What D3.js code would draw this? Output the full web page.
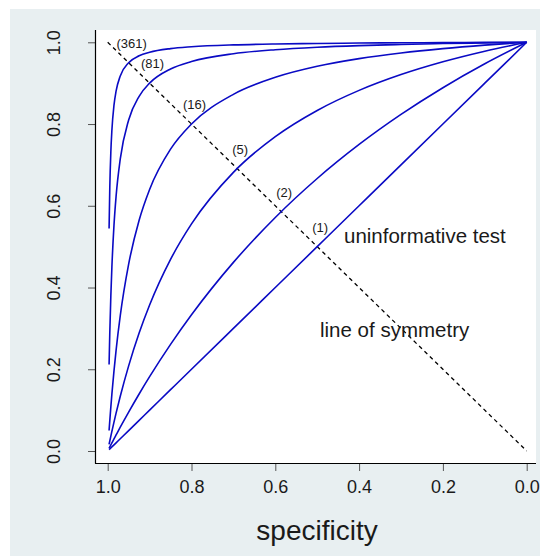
<!DOCTYPE html>
<html>
<head>
<meta charset="utf-8">
<script src="https://cdn.jsdelivr.net/npm/d3@7"></script>
<style>
  body { margin: 0; background: #ffffff; }
  svg { display: block; font-family: "Liberation Sans", Arial, sans-serif; }
</style>
</head>
<body>
<div id="chart"></div>
<script>
// chart size
const width = 540;
const height = 556;

// specificity values shared by every curve
const specificity = [0.9967, 0.995, 0.9925, 0.99, 0.985, 0.98, 0.97, 0.95, 0.925, 0.9,
    0.85, 0.8, 0.7, 0.6, 0.5, 0.4, 0.3, 0.2, 0.1, 0.0];

// sensitivity for each diagnostic odds ratio
const sens1 = [0.0033, 0.005, 0.0075, 0.01, 0.015, 0.02, 0.03, 0.05, 0.075, 0.1,
    0.15, 0.2, 0.3, 0.4, 0.5, 0.6, 0.7, 0.8, 0.9, 1.0];
const sens2 = [0.0066, 0.0100, 0.0149, 0.0198, 0.0296, 0.0392, 0.0583, 0.0952, 0.1395, 0.1818,
    0.2609, 0.3333, 0.4615, 0.5714, 0.6667, 0.75, 0.8235, 0.8889, 0.9474, 1.0];
const sens5 = [0.0163, 0.0245, 0.0364, 0.0481, 0.0708, 0.0926, 0.1339, 0.2083, 0.2885, 0.3571,
    0.4688, 0.5556, 0.6818, 0.7692, 0.8333, 0.8824, 0.9211, 0.9524, 0.9783, 1.0];
const sens16 = [0.0503, 0.0744, 0.1079, 0.1391, 0.1959, 0.2462, 0.3310, 0.4571, 0.5647, 0.64,
    0.7385, 0.8, 0.8727, 0.9143, 0.9412, 0.96, 0.9739, 0.9846, 0.9931, 1.0];
const sens81 = [0.2115, 0.2893, 0.3797, 0.45, 0.5523, 0.6231, 0.7147, 0.81, 0.8679, 0.9,
    0.9346, 0.9529, 0.972, 0.9818, 0.9878, 0.9918, 0.9947, 0.9969, 0.9986, 1.0];
const sens361 = [0.5445, 0.6446, 0.7318, 0.7848, 0.8461, 0.8805, 0.9178, 0.95, 0.967, 0.9757,
    0.9846, 0.989, 0.9936, 0.9959, 0.9972, 0.9982, 0.9988, 0.9993, 0.9997, 1.0];

const curveSens = [sens1, sens2, sens5, sens16, sens81, sens361];

// curve labels and where they cross the line of symmetry
const oddsLabels = ["(1)", "(2)", "(5)", "(16)", "(81)", "(361)"];
const labelSens = [0.5, 0.586, 0.691, 0.8, 0.9, 0.95];

// tick labels
const xTicks = [1.0, 0.8, 0.6, 0.4, 0.2, 0.0];
const yTicks = [0.0, 0.2, 0.4, 0.6, 0.8, 1.0];

const blue = "#0a0ac4";
const textColor = "#1a1a1a";

var svg = d3.select("#chart")
    .append("svg")
    .attr("width", width)
    .attr("height", height);

// grey panel behind everything
svg.append("rect")
    .attr("x", 10).attr("y", 9)
    .attr("width", width - 10).attr("height", height - 9)
    .attr("fill", "#e8eff1");

// white plot region
svg.append("rect")
    .attr("x", 95).attr("y", 30)
    .attr("width", 441).attr("height", 433)
    .attr("fill", "#ffffff");

// scales (specificity runs backwards)
var xScale = d3.scaleLinear().domain([1, 0]).range([107.7, 526.7]);
var yScale = d3.scaleLinear().domain([0, 1]).range([451, 42.3]);

// axes
var xAxis = d3.axisBottom(xScale)
    .tickValues(xTicks)
    .tickFormat(d3.format(".1f"))
    .tickSize(8)
    .tickPadding(4);

var yAxis = d3.axisLeft(yScale)
    .tickValues(yTicks)
    .tickFormat(d3.format(".1f"))
    .tickSize(7)
    .tickPadding(4);

var gx = svg.append("g")
    .attr("transform", "translate(0,463)")
    .call(xAxis);
gx.select(".domain").remove();
gx.selectAll(".tick line").attr("stroke", "#555");
gx.selectAll(".tick text")
    .attr("y", 29.5)
    .attr("dy", null)
    .attr("fill", textColor)
    .style("font-size", "18px");

var gy = svg.append("g")
    .attr("transform", "translate(95,0)")
    .call(yAxis);
gy.select(".domain").remove();
gy.selectAll(".tick line").attr("stroke", "#555");
gy.selectAll(".tick text")
    .attr("x", null).attr("dy", null)
    .attr("transform", "translate(-35,0) rotate(-90)")
    .attr("text-anchor", "middle")
    .attr("fill", textColor)
    .style("font-size", "18px");

// L-shaped axis lines
svg.append("line")
    .attr("x1", 95.5).attr("x2", 95.5)
    .attr("y1", 30).attr("y2", 463.5)
    .attr("stroke", "#000").attr("stroke-width", 1.2);
svg.append("line")
    .attr("x1", 95).attr("x2", 536)
    .attr("y1", 463.5).attr("y2", 463.5)
    .attr("stroke", "#000").attr("stroke-width", 1.2);

// axis title
svg.append("text")
    .attr("x", 317).attr("y", 540)
    .attr("text-anchor", "middle")
    .attr("fill", textColor)
    .style("font-size", "28px")
    .text("specificity");

// line of symmetry
svg.append("line")
    .attr("x1", xScale(1)).attr("y1", yScale(1))
    .attr("x2", xScale(0)).attr("y2", yScale(0))
    .attr("stroke", "#000")
    .attr("stroke-width", 1.3)
    .attr("stroke-dasharray", "4,3.5");

// ROC curves
var line = d3.line()
    .x((d) => xScale(d[0]))
    .y((d) => yScale(d[1]))
    .curve(d3.curveMonotoneX);

svg.append("g").selectAll("path")
    .data(curveSens)
    .enter()
    .append("path")
    .attr("d", (s) => line(specificity.map((sp, i) => [sp, s[i]])))
    .attr("fill", "none")
    .attr("stroke", blue)
    .attr("stroke-width", 1.6);

// odds ratio labels above the crossing points
svg.append("g").selectAll("text")
    .data(oddsLabels)
    .enter()
    .append("text")
    .attr("x", (d, i) => xScale(labelSens[i]) + 3)
    .attr("y", (d, i) => yScale(labelSens[i]) - 15)
    .attr("text-anchor", "middle")
    .attr("fill", textColor)
    .style("font-size", "13px")
    .text((d) => d);

// annotations
svg.append("text")
    .attr("x", 344).attr("y", 243)
    .attr("fill", textColor)
    .style("font-size", "20.5px")
    .text("uninformative test");

svg.append("text")
    .attr("x", 320).attr("y", 337)
    .attr("fill", textColor)
    .style("font-size", "20.5px")
    .text("line of symmetry");
</script>
</body>
</html>
